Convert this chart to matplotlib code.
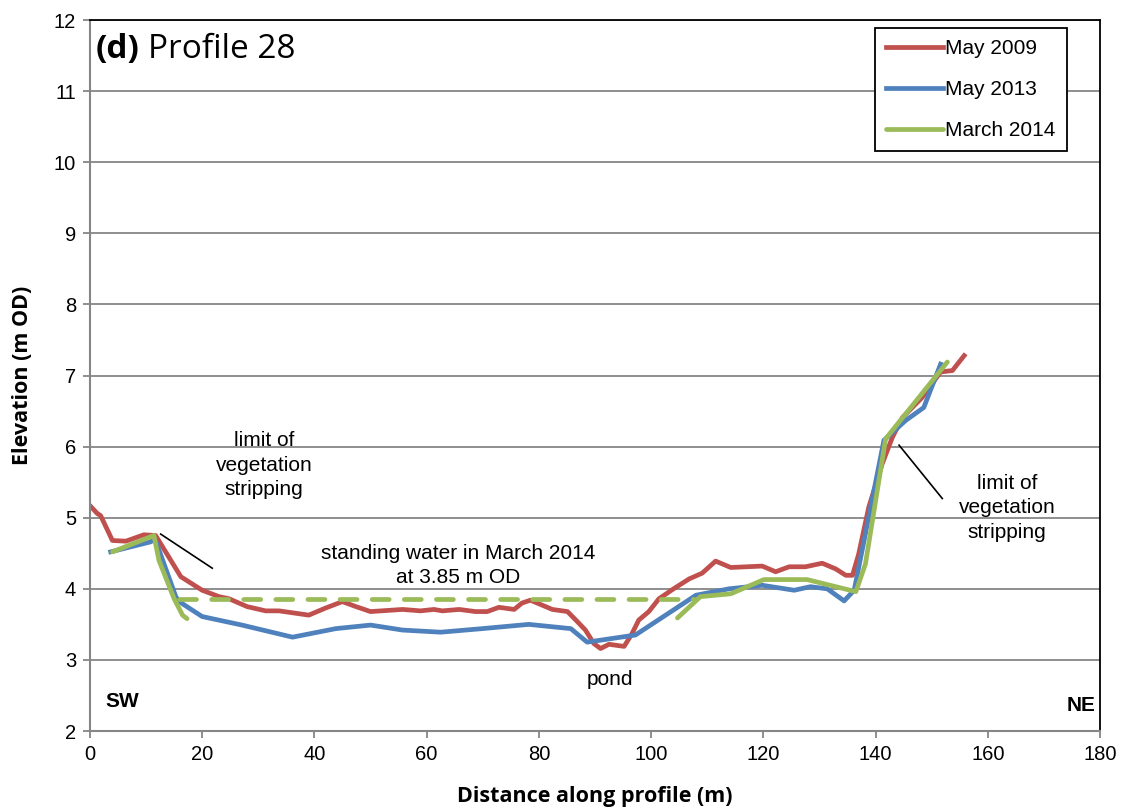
import numpy as np
import matplotlib.pyplot as plt

# profile data
x_2009 = [0, 1.3, 1.9, 4.0, 6.4, 9.6, 11.7, 16.2, 20.0, 23.0, 24.8, 28.0, 31.3, 33.7, 39.0,
          42.0, 45.0, 47.4, 50.0, 55.7, 58.9, 61.3, 62.8, 65.8, 68.7, 70.8, 72.9, 75.6, 77.0,
          78.5, 80.0, 82.4, 85.1, 86.6, 88.3, 89.8, 91.0, 92.5, 95.2, 96.6, 97.8, 99.6, 101.4,
          104.0, 106.8, 109.1, 111.5, 114.2, 119.8, 122.2, 124.6, 127.5, 130.5, 132.9, 134.7,
          135.9, 137.0, 138.8, 141.2, 143.0, 144.8, 148.3, 151.6, 153.7, 155.8]
y_2009 = [5.17, 5.06, 5.03, 4.68, 4.67, 4.76, 4.75, 4.17, 3.98, 3.89, 3.86, 3.75, 3.69, 3.69, 3.63,
          3.73, 3.82, 3.75, 3.68, 3.71, 3.69, 3.71, 3.69, 3.71, 3.68, 3.68, 3.74, 3.71, 3.80,
          3.84, 3.79, 3.71, 3.68, 3.56, 3.42, 3.23, 3.16, 3.22, 3.19, 3.37, 3.56, 3.68, 3.86,
          4.0, 4.14, 4.22, 4.39, 4.30, 4.32, 4.24, 4.31, 4.31, 4.36, 4.28, 4.19,
          4.19, 4.49, 5.15, 5.76, 6.13, 6.41, 6.69, 7.05, 7.07, 7.28]

x_2013 = [3.7, 10.8, 11.6, 15.3, 15.9, 20.0, 27.1, 36.1, 43.8, 50.0, 55.7, 62.5, 69.9, 78.2,
          85.7, 88.6, 97.2, 108.0, 113.9, 119.8, 125.5, 128.4, 131.4, 134.4, 136.2, 141.5,
          145.4, 148.6, 151.6]
y_2013 = [4.52, 4.66, 4.70, 3.89, 3.82, 3.61, 3.49, 3.32, 3.44, 3.49, 3.42, 3.39, 3.44, 3.50,
          3.44, 3.25, 3.35, 3.91, 4.00, 4.05, 3.98, 4.03, 4.00, 3.83, 3.98, 6.09,
          6.37, 6.55, 7.16]

# March 2014 was surveyed in two pieces
x_2014_sw = [4.0, 11.4, 12.3, 15.0, 16.5, 17.3]
y_2014_sw = [4.52, 4.75, 4.40, 3.86, 3.63, 3.58]
x_2014_ne = [104.7, 108.8, 114.2, 120.1, 127.8, 136.5, 138.2, 141.8, 152.8]
y_2014_ne = [3.59, 3.89, 3.93, 4.13, 4.13, 3.96, 4.35, 6.11, 7.19]

water_x = [15.9, 107.6]
water_level = 3.85

red = '#C0504D'
blue = '#4F81BD'
green = '#9BBB59'

fig = plt.figure(figsize=(11.23, 8.1), dpi=100)
ax = fig.add_axes([0.0801, 0.0975, 0.8994, 0.8778])

lw = 3.4
ax.plot(x_2009, y_2009, color=red, lw=lw, label='May 2009', solid_joinstyle='round')
ax.plot(x_2013, y_2013, color=blue, lw=lw, label='May 2013', solid_joinstyle='round')
ax.plot(x_2014_sw, y_2014_sw, color=green, lw=lw, label='March 2014',
        solid_joinstyle='round', solid_capstyle='round')
ax.plot(x_2014_ne, y_2014_ne, color=green, lw=lw, solid_joinstyle='round',
        solid_capstyle='round')
ax.plot(water_x, [water_level, water_level], color=green, lw=lw,
        dashes=(3.6, 3.2), dash_capstyle='round')

ax.set_xlim(0, 180)
ax.set_ylim(2, 12)
ax.set_xticks(range(0, 181, 20))
ax.set_yticks(range(2, 13))
ax.yaxis.grid(True, color='#868686', lw=1.3)
ax.set_axisbelow(True)

for side in ['left', 'bottom']:
    ax.spines[side].set_color('#868686')
    ax.spines[side].set_linewidth(1.5)
for side in ['top', 'right']:
    ax.spines[side].set_color('black')
    ax.spines[side].set_linewidth(1.3)
ax.tick_params(direction='out', length=5, width=1.3, color='#868686',
               labelsize=14.5, pad=5)
for lab in ax.get_xticklabels() + ax.get_yticklabels():
    lab.set_family('Liberation Sans')

ax.set_xlabel('Distance along profile (m)', family='Open Sans', fontweight='bold',
              fontsize=15.5, labelpad=16)
ax.set_ylabel('Elevation (m OD)', family='Open Sans', fontweight='bold',
              fontsize=15.5, labelpad=15)

leg = ax.legend(loc='upper right', bbox_to_anchor=(0.967, 0.989), borderaxespad=0,
                fancybox=False, edgecolor='black', framealpha=1, handlelength=2.7,
                handletextpad=0.1, labelspacing=1.05, borderpad=0.55,
                prop={'family': 'Liberation Sans', 'size': 15})
leg.get_frame().set_linewidth(1.3)

# panel title
ax.text(1.1, 11.58, r'(d)', family='Open Sans', fontweight='bold', fontsize=24,
        va='center', ha='left')
ax.text(10.3, 11.58, 'Profile 28', family='Open Sans', fontsize=24,
        va='center', ha='left')

tf = {'family': 'Liberation Sans', 'fontsize': 15}
ax.text(31.0, 5.74, 'limit of\nvegetation\nstripping', ha='center', va='center',
        linespacing=1.38, **tf)
ax.plot([12.6, 21.8], [4.77, 4.29], color='black', lw=1.2)
ax.text(163.4, 5.14, 'limit of\nvegetation\nstripping', ha='center', va='center',
        linespacing=1.38, **tf)
ax.plot([144.2, 151.9], [6.02, 5.27], color='black', lw=1.2)
ax.text(65.6, 4.33, 'standing water in March 2014\nat 3.85 m OD', ha='center',
        va='center', linespacing=1.38, **tf)
ax.text(92.7, 2.72, 'pond', ha='center', va='center', **tf)
ax.text(5.7, 2.41, 'SW', ha='center', va='center', fontweight='bold',
        family='Liberation Sans', fontsize=15)
ax.text(176.6, 2.36, 'NE', ha='center', va='center', fontweight='bold',
        family='Liberation Sans', fontsize=15)

fig.savefig('out.png', dpi=100, facecolor='white')
